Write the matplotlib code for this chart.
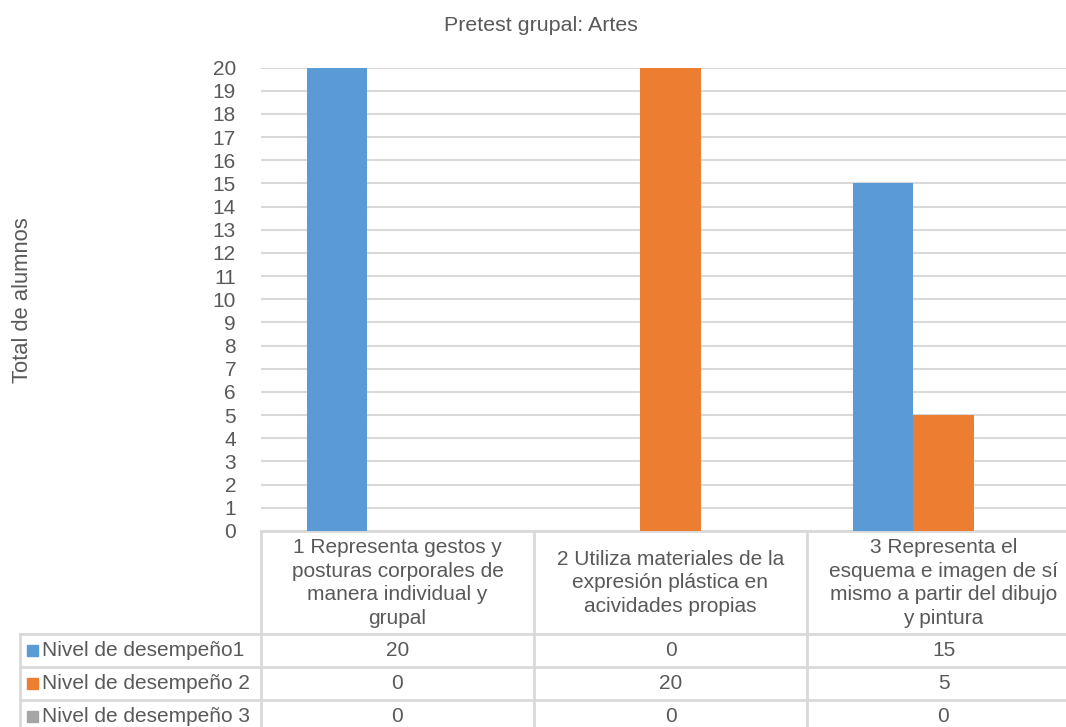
import matplotlib.pyplot as plt
from matplotlib.lines import Line2D
from matplotlib.patches import Rectangle
from matplotlib.transforms import blended_transform_factory
import numpy as np

plt.rcParams['font.family'] = ['Liberation Sans', 'DejaVu Sans']

# datos
categorias = [
    "1 Representa gestos y\nposturas corporales de\nmanera individual y\ngrupal",
    "2 Utiliza materiales de la\nexpresión plástica en\nacividades propias",
    "3 Representa el\nesquema e imagen de sí\nmismo a partir del dibujo\ny pintura",
]
series = ["Nivel de desempeño1", "Nivel de desempeño 2", "Nivel de desempeño 3"]
nivel1 = [20, 0, 15]
nivel2 = [0, 20, 5]
nivel3 = [0, 0, 0]
colores = ["#5B9BD5", "#ED7D31", "#A5A5A5"]

W, H = 1066, 727
TXT = "#595959"
LINEA = "#D9D9D9"

fig = plt.figure(figsize=(W / 100, H / 100), dpi=100)
# el área de trazado se sale un poco por la derecha
ax = fig.add_axes([261 / W, (H - 531) / H, (1080 - 261) / W, (531 - 67.5) / H])

x = np.arange(len(categorias))
ancho = 1 / 4.5
for i, (vals, col) in enumerate(zip([nivel1, nivel2, nivel3], colores)):
    ax.bar(x + (i - 1) * ancho, vals, ancho, color=col, zorder=3)

ax.set_xlim(-0.5, 2.5)
ax.set_ylim(0, 20)
ax.set_yticks(range(0, 21))
ax.set_xticks([])
ax.tick_params(axis='y', length=0, pad=18, labelsize=15, labelcolor=TXT)
ax.grid(axis='y', color=LINEA, linewidth=1.5, zorder=0)
for s in ["left", "right", "top"]:
    ax.spines[s].set_visible(False)
ax.spines["bottom"].set_color(LINEA)
ax.spines["bottom"].set_linewidth(2)

fig.text(541 / W, 1 - 31 / H, "Pretest grupal: Artes", ha='center', va='baseline',
         fontsize=15.4, color=TXT)
fig.text(23 / W, 1 - 300 / H, "Total de alumnos", ha='center', va='center',
         rotation=90, fontsize=15.8, color=TXT)

# tabla de datos bajo el eje
tr = blended_transform_factory(ax.transData, fig.transFigure)
fy = lambda py: 1 - py / H
fx = lambda px: px / W

bordes = [-0.5, 0.5, 1.5, 2.5]
for b in bordes:
    fig.add_artist(Line2D([b, b], [fy(531), fy(740)], transform=tr,
                          color=LINEA, linewidth=2, clip_on=False))
fig.add_artist(Line2D([fx(20), fx(20)], [fy(634), fy(740)], transform=fig.transFigure,
                      color=LINEA, linewidth=2))
filas_y = [634, 667, 700, 733]
for py in filas_y:
    fig.add_artist(Line2D([fx(20), fx(1080)], [fy(py), fy(py)], transform=fig.transFigure,
                          color=LINEA, linewidth=2, clip_on=False))

for xi, cat in zip(x, categorias):
    fig.text(xi, fy(583), cat, transform=tr, ha='center', va='center',
             fontsize=15, color=TXT, linespacing=1.33)

for r, (nombre, vals, col) in enumerate(zip(series, [nivel1, nivel2, nivel3], colores)):
    cy = (filas_y[r] + filas_y[r + 1]) / 2
    fig.add_artist(Rectangle((fx(27), fy(cy + 5.5)), 11 / W, 11 / H,
                             transform=fig.transFigure, color=col))
    fig.text(fx(42), fy(cy), nombre, ha='left', va='center', fontsize=15, color=TXT)
    for xi, v in zip(x, vals):
        fig.text(xi, fy(cy), str(v), transform=tr, ha='center', va='center',
                 fontsize=15, color=TXT)

fig.savefig("out.png", dpi=100, facecolor="white")
